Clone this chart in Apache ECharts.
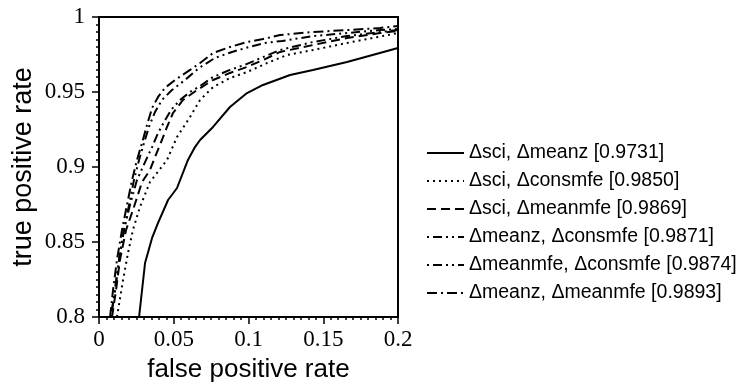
<!DOCTYPE html>
<html>
<head>
<meta charset="utf-8">
<script src="https://cdn.jsdelivr.net/npm/echarts@6/dist/echarts.min.js"></script>
<style>
  html, body { margin: 0; padding: 0; background: #fff; }
  #main { width: 743px; height: 384px; }
</style>
</head>
<body>
<div id="main"></div>
<script>
// legend names
var names = [
  "\u0394sci, \u0394meanz [0.9731]",
  "\u0394sci, \u0394consmfe [0.9850]",
  "\u0394sci, \u0394meanmfe [0.9869]",
  "\u0394meanz, \u0394consmfe [0.9871]",
  "\u0394meanmfe, \u0394consmfe [0.9874]",
  "\u0394meanz, \u0394meanmfe [0.9893]"
];

// curve points (fpr, tpr)
var fpr1 = [0.0268, 0.0308, 0.0355, 0.0395, 0.0462, 0.0522, 0.0595, 0.0642, 0.0676, 0.0763, 0.0876, 0.0990, 0.1097, 0.1278, 0.1431, 0.1659, 0.2];
var tpr1 = [0.8, 0.836, 0.8527, 0.8627, 0.878, 0.886, 0.9047, 0.9133, 0.918, 0.9267, 0.94, 0.9493, 0.9547, 0.9613, 0.9647, 0.97, 0.9793];

var fpr2 = [0.0120, 0.0161, 0.0194, 0.0227, 0.0274, 0.0341, 0.0455, 0.0522, 0.0609, 0.0676, 0.0763, 0.0876, 0.0990, 0.1124, 0.1258, 0.1431, 0.1659, 0.2];
var tpr2 = [0.8, 0.8247, 0.8427, 0.858, 0.8733, 0.89, 0.9047, 0.92, 0.9333, 0.9447, 0.9533, 0.9593, 0.9633, 0.9693, 0.9747, 0.978, 0.9827, 0.9893];

var fpr3 = [0.0087, 0.0114, 0.0140, 0.0181, 0.0227, 0.0288, 0.0341, 0.0375, 0.0421, 0.0455, 0.0495, 0.0562, 0.0656, 0.0763, 0.0876, 0.0990, 0.1097, 0.1211, 0.1431, 0.1659, 0.1880, 0.2];
var tpr3 = [0.8, 0.818, 0.838, 0.858, 0.8713, 0.89, 0.898, 0.9067, 0.918, 0.9267, 0.936, 0.9447, 0.9513, 0.958, 0.9627, 0.9667, 0.9713, 0.9767, 0.9813, 0.986, 0.9893, 0.9907];

var fpr4 = [0.0080, 0.0107, 0.0134, 0.0167, 0.0207, 0.0254, 0.0308, 0.0355, 0.0395, 0.0435, 0.0482, 0.0542, 0.0609, 0.0676, 0.0763, 0.0876, 0.0990, 0.1097, 0.1211, 0.1431, 0.1659, 0.1880, 0.2];
var tpr4 = [0.8, 0.818, 0.838, 0.858, 0.8747, 0.8913, 0.9033, 0.9133, 0.9227, 0.93, 0.938, 0.9447, 0.95, 0.954, 0.96, 0.9647, 0.9687, 0.9733, 0.978, 0.9833, 0.9873, 0.99, 0.9913];

var fpr5 = [0.0080, 0.0107, 0.0134, 0.0167, 0.0201, 0.0234, 0.0268, 0.0301, 0.0334, 0.0375, 0.0421, 0.0488, 0.0575, 0.0669, 0.0776, 0.0890, 0.1003, 0.1110, 0.1224, 0.1431, 0.1659, 0.1880, 0.2];
var tpr5 = [0.8, 0.818, 0.838, 0.858, 0.8747, 0.8913, 0.9047, 0.916, 0.9267, 0.9367, 0.9447, 0.9513, 0.958, 0.966, 0.9727, 0.9767, 0.98, 0.9827, 0.984, 0.9873, 0.9893, 0.9913, 0.992];

var fpr6 = [0.0074, 0.0094, 0.0120, 0.0154, 0.0187, 0.0221, 0.0254, 0.0288, 0.0321, 0.0355, 0.0395, 0.0441, 0.0508, 0.0609, 0.0676, 0.0763, 0.0876, 0.0990, 0.1097, 0.1211, 0.1431, 0.1659, 0.1880, 0.2];
var tpr6 = [0.8, 0.818, 0.838, 0.858, 0.8747, 0.8913, 0.9047, 0.916, 0.928, 0.9393, 0.9467, 0.9527, 0.958, 0.9647, 0.9693, 0.976, 0.98, 0.9833, 0.9853, 0.988, 0.99, 0.9913, 0.9927, 0.994];

var xs = [fpr1, fpr2, fpr3, fpr4, fpr5, fpr6];
var ys = [tpr1, tpr2, tpr3, tpr4, tpr5, tpr6];

// dash patterns: solid, dotted, dashed, dash-dot-dot, dash-dot-dot, dash-dot
var dashes = ["solid", [2, 4], [9, 5], [2, 4, 9, 4, 2, 4], [2, 4, 9, 4, 2, 4], [10, 4, 2, 4]];

var serif = "Liberation Serif";
var sans = "Liberation Sans";

var myChart = echarts.init(document.getElementById("main"), null, { renderer: "canvas" });

var series = names.map(function (n, i) {
  return {
    name: n,
    type: "line",
    symbol: "none",
    smooth: false,
    clip: true,
    lineStyle: { color: "#000", width: 2, type: dashes[i] },
    itemStyle: { color: "#000" },
    data: xs[i].map(function (x, j) { return [x, ys[i][j]]; })
  };
});

myChart.setOption({
  animation: false,
  backgroundColor: "#fff",
  grid: {
    left: 99, top: 17, right: 345, bottom: 67,
    outerBoundsMode: "none",
    containLabel: false,
    show: true, borderColor: "#000", borderWidth: 2
  },
  xAxis: {
    type: "value",
    min: 0, max: 0.2, interval: 0.05,
    name: "false positive rate",
    nameLocation: "middle",
    nameGap: 40,
    nameTextStyle: { fontFamily: sans, fontSize: 26, color: "#000" },
    axisLine: { show: true, lineStyle: { color: "#000", width: 2 } },
    axisTick: { show: true, inside: false, length: 7, lineStyle: { color: "#000", width: 1.5 } },
    minorTick: { show: true, splitNumber: 10, length: 3, lineStyle: { color: "#000", width: 1.5 } },
    splitLine: { show: false },
    axisLabel: {
      fontFamily: serif, fontSize: 23, color: "#000", margin: 11,
      formatter: function (v) { return String(+v.toFixed(2)); }
    }
  },
  yAxis: {
    type: "value",
    min: 0.8, max: 1, interval: 0.05,
    name: "true positive rate",
    nameLocation: "middle",
    nameGap: 62,
    nameTextStyle: { fontFamily: sans, fontSize: 27, color: "#000" },
    axisLine: { show: true, lineStyle: { color: "#000", width: 2 } },
    axisTick: { show: true, inside: false, length: 7, lineStyle: { color: "#000", width: 1.5 } },
    minorTick: { show: true, splitNumber: 10, length: 3, lineStyle: { color: "#000", width: 1.5 } },
    splitLine: { show: false },
    axisLabel: {
      fontFamily: serif, fontSize: 23, color: "#000", margin: 14,
      formatter: function (v) { return String(+v.toFixed(2)); }
    }
  },
  legend: {
    orient: "vertical",
    left: 421,
    top: 138,
    itemWidth: 37,
    itemHeight: 21,
    itemGap: 8,
    selectedMode: false,
    itemStyle: { opacity: 0 },
    lineStyle: { width: 2 },
    textStyle: { fontFamily: sans, fontSize: 19.5, color: "#000", padding: 0 },
    data: names
  },
  series: series
});
</script>
</body>
</html>
